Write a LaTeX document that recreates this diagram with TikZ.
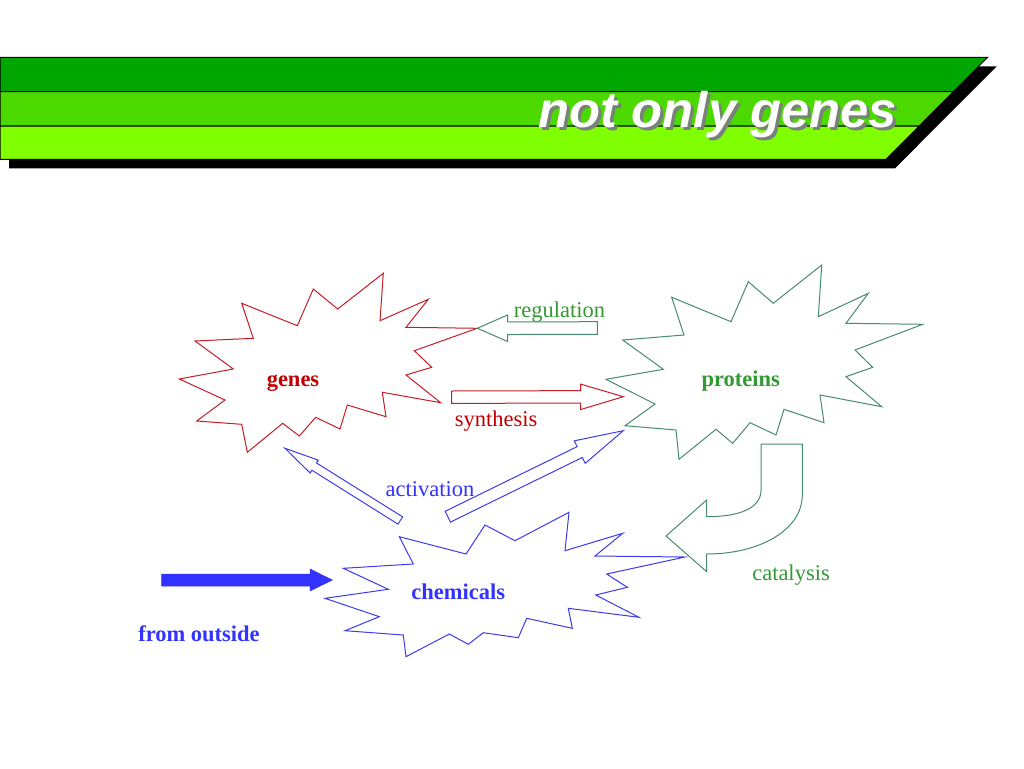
\documentclass[tikz,border=0pt]{standalone}
\usepackage{fontspec}
\setmainfont{Liberation Serif}
\newfontfamily\titlefont{Liberation Sans}
\usetikzlibrary{calc}
\definecolor{barA}{RGB}{0,166,0}
\definecolor{barB}{RGB}{76,217,0}
\definecolor{barC}{RGB}{128,255,0}
\definecolor{redtxt}{RGB}{192,0,0}
\definecolor{redln}{RGB}{196,30,40}
\definecolor{grtxt}{RGB}{51,153,51}
\definecolor{grln}{RGB}{70,140,110}
\definecolor{bltxt}{RGB}{51,51,255}
\definecolor{blln}{RGB}{60,60,235}
\definecolor{titleshade}{RGB}{120,130,120}
\tikzset{
  lbl/.style={anchor=base,inner sep=0pt,font=\fontsize{22.5}{27}\selectfont},
  blbl/.style={lbl,font=\fontsize{22.5}{27}\selectfont\bfseries},
  seal/.style={line width=1pt,line join=miter},
  barstyle/.style={draw=black,line width=1pt},
  outarrow/.style={line width=1pt,fill=white},
}
% block arrow: #1 style, #2 tail, #3 tip, #4 shaft half width, #5 head half width, #6 head length
\newcommand{\blockarr}[6]{%
  \path ($(#3)!#6!(#2)$) coordinate (ba-h);
  \draw[#1] ($(#2)!#4!90:(#3)$) -- ($(ba-h)!#4!90:(#3)$) -- ($(ba-h)!#5!90:(#3)$)
    -- (#3) -- ($(ba-h)!#5!-90:(#3)$) -- ($(ba-h)!#4!-90:(#3)$) -- ($(#2)!#4!-90:(#3)$) -- cycle;
}
\newcommand{\titletext}{\scalebox{1.015}[1]{not only genes}}
\begin{document}
\begin{tikzpicture}[x=1pt,y=-1pt]
\useasboundingbox (0,0) rectangle (1024,768);
\fill[white] (0,0) rectangle (1024,768);

% title banner
\fill[black] (9,66.3) -- (996.7,66.3) -- (895,168.3) -- (9,168.3) -- cycle;
\filldraw[barstyle,fill=barA] (0,57.3) -- (987.7,57.3) -- (953.4,91.7) -- (0,91.7) -- cycle;
\filldraw[barstyle,fill=barB] (0,91.7) -- (953.4,91.7) -- (919.2,126) -- (0,126) -- cycle;
\filldraw[barstyle,fill=barC] (0,126) -- (919.2,126) -- (886,159.3) -- (0,159.3) -- cycle;
\node[anchor=base,inner sep=0pt,font=\titlefont\fontsize{50}{54}\selectfont\bfseries\itshape] (title) at (718,127.5)
  {\rlap{\hspace{3pt}\raisebox{-3pt}{\color{titleshade}\titletext}}\textcolor{white}{\titletext}};

% explosions
\draw[seal,draw=redln] (179.3,379) -- (233.3,369) -- (195,341) -- (253.3,338.3) -- (241.7,303.3) -- (297.3,325.7) -- (313.3,289) -- (337.7,309) -- (383.3,273.3) -- (380,320.7) -- (428.3,299.3) -- (406,327.3) -- (477.3,328.3) -- (414.3,350.7) -- (431.7,367.3) -- (406,375) -- (440.7,402.7) -- (382.3,392.3) -- (386,416.7) -- (347.3,405) -- (340,429) -- (315.7,417.3) -- (299.3,436) -- (282.7,423.3) -- (247.3,452.3) -- (241.7,424.3) -- (196.7,421) -- (225,400) -- cycle;
\draw[seal,draw=grln] (606,379.3) -- (655,404) -- (625,425.7) -- (676,430) -- (679,459.3) -- (716,429.3) -- (732.7,443.3) -- (750,422.7) -- (776,435) -- (784,409.3) -- (824,422.7) -- (820,395) -- (881.7,406.7) -- (846,376.7) -- (872.7,367.3) -- (855,350) -- (922.7,324.3) -- (846,323.3) -- (868.3,293.3) -- (818.3,316.7) -- (821.7,265) -- (773.3,303.3) -- (748.3,281.7) -- (731,321.7) -- (671.7,297.3) -- (684,335) -- (622.7,340) -- (663.3,369.3) -- cycle;
\draw[seal,draw=blln] (325,598.3) -- (379.3,616.7) -- (345,630.7) -- (403.3,635) -- (406,656.7) -- (449.3,634) -- (468.3,644.3) -- (483.3,632.7) -- (518.3,637.7) -- (526.7,618.3) -- (572.3,628.3) -- (568.3,608.3) -- (639,617.3) -- (595.7,595) -- (627.3,587.3) -- (606.7,574) -- (685,557) -- (595,556) -- (622.7,533.3) -- (565,550.7) -- (569,512.3) -- (515,540.7) -- (485,525) -- (466,554) -- (399.3,536.7) -- (413.3,564) -- (343.3,568.3) -- (388.3,589.3) -- cycle;

% main labels
\node[blbl,text=redtxt] (genes) at (293,386.7) {genes};
\node[blbl,text=grtxt] (proteins) at (740.8,386.7) {proteins};
\node[blbl,text=bltxt] (chemicals) at (458.3,599) {chemicals};
\node[blbl,text=bltxt] (outside) at (199,641.7) {from outside};

% arrow end points
\coordinate (reg-tail) at (597.3,328);
\coordinate (reg-tip) at (477.3,328.3);
\coordinate (syn-tail) at (451.7,397.2);
\coordinate (syn-tip) at (623.3,396.7);
\coordinate (actL-tail) at (400.3,520.5);
\coordinate (actL-tip) at (285,448.3);
\coordinate (actR-tail) at (447.8,516.7);
\coordinate (actR-tip) at (623.3,430.7);
\coordinate (out-tail) at (161.7,580);
\coordinate (out-tip) at (332.3,580);

\blockarr{outarrow,draw=grln}{reg-tail}{reg-tip}{6.3pt}{13.3pt}{30.4pt}
\blockarr{outarrow,draw=redln}{syn-tail}{syn-tip}{6.2pt}{12.7pt}{42.6pt}
\blockarr{outarrow,draw=blln}{actL-tail}{actL-tip}{4.3pt}{7.6pt}{34.4pt}
\blockarr{outarrow,draw=blln}{actR-tail}{actR-tip}{6pt}{12.5pt}{48.5pt}
\blockarr{fill=bltxt,draw=bltxt,line width=0.5pt}{out-tail}{out-tip}{6pt}{11pt}{22.3pt}

% catalysis U-turn arrow
\draw[outarrow,draw=grln] (761,444) -- (802.3,444) -- (802.3,495)
  .. controls (802.3,530) and (759.5,554) .. (706.7,554)
  -- (706.7,571.7) -- (666,536) -- (706.7,500) -- (706.7,516.7)
  .. controls (740,516.7) and (761,508) .. (761,490) -- cycle;

% arrow labels
\node[lbl,text=grtxt] (regulation) at (559.5,317.3) {regulation};
\node[lbl,text=redtxt] (synthesis) at (496,426.7) {synthesis};
\node[lbl,text=bltxt] (activation) at (430,496) {activation};
\node[lbl,text=grtxt] (catalysis) at (791,580.7) {catalysis};
\end{tikzpicture}
\end{document}
